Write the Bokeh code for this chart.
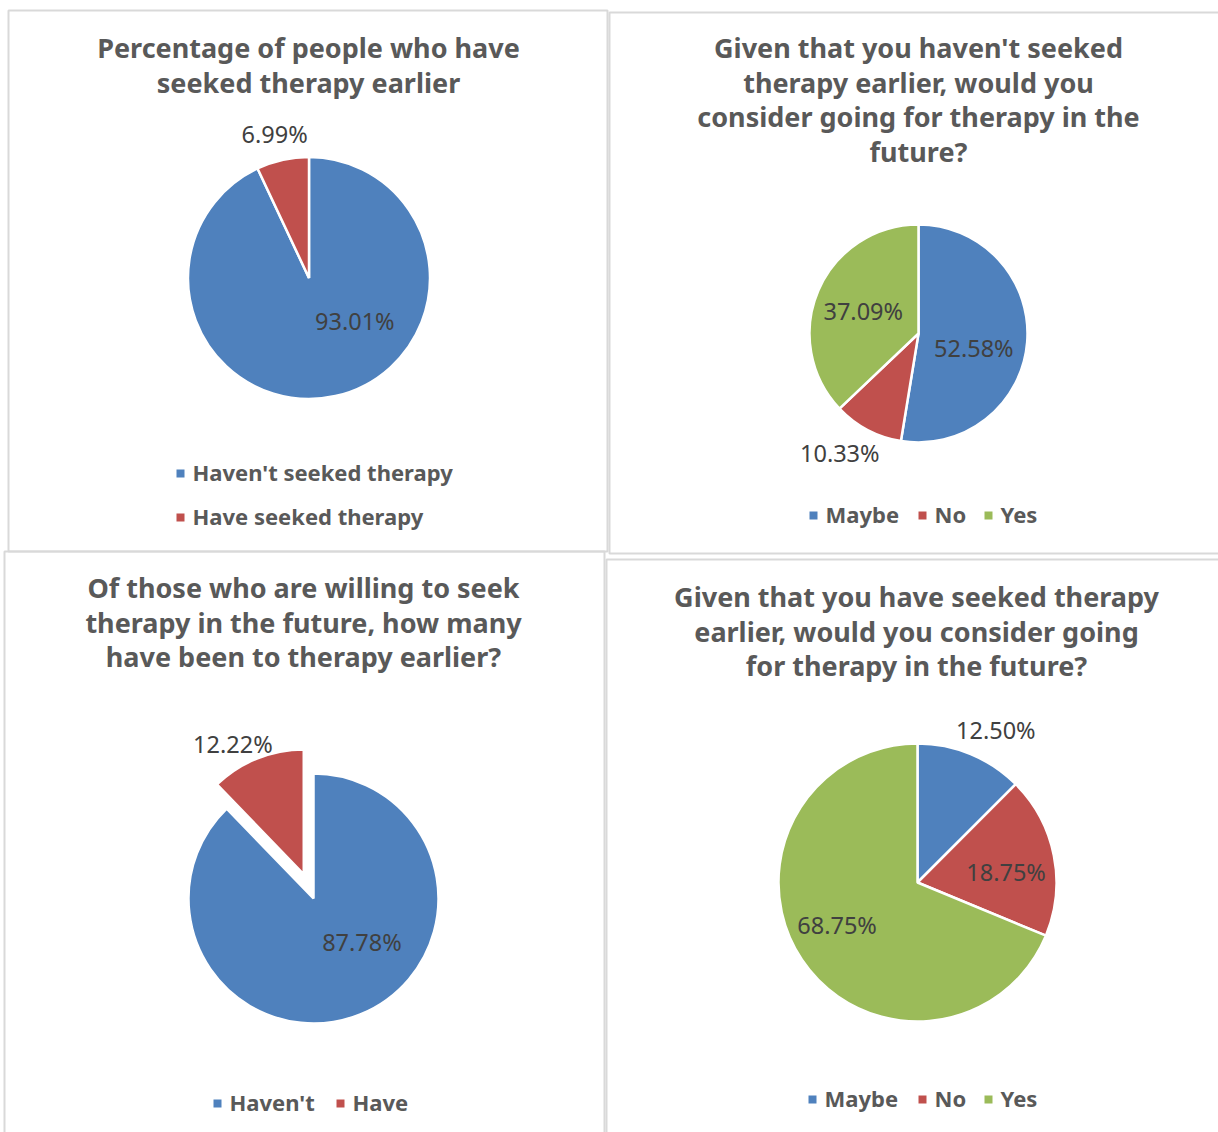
import math
from bokeh.plotting import figure
from bokeh.models import Range1d
from bokeh.core.properties import value
from bokeh.embed import file_html
from bokeh.resources import INLINE

# ---------------- DATA ----------------
q1_title = ["Percentage of people who have", "seeked therapy earlier"]
q1_categories = ["Haven't seeked therapy", "Have seeked therapy"]
q1_values = [93.01, 6.99]

q2_title = ["Given that you haven't seeked", "therapy earlier, would you",
            "consider going for therapy in the", "future?"]
q2_categories = ["Maybe", "No", "Yes"]
q2_values = [52.58, 10.33, 37.09]

q3_title = ["Of those who are willing to seek", "therapy in the future, how many",
            "have been to therapy earlier?"]
q3_categories = ["Haven't", "Have"]
q3_values = [87.78, 12.22]

q4_title = ["Given that you have seeked therapy", "earlier, would you consider going",
            "for therapy in the future?"]
q4_categories = ["Maybe", "No", "Yes"]
q4_values = [12.50, 18.75, 68.75]

# ---------------- STYLE / LAYOUT ----------------
BLUE, RED, GREEN = "#4F81BD", "#C0504D", "#9BBB59"
FONT = value("Noto Sans")
TITLE_COLOR = "#595959"
LABEL_COLOR = "#404040"
BORDER_COLOR = "#D9D9D9"

panels = [
    dict(title=q1_title, cats=q1_categories, vals=q1_values, colors=[BLUE, RED],
         box=(8, 10, 607, 551), title_x=308, title_y=49,
         center=(308.5, 277.5), r=121, explode=[0, 0],
         # label placement: (radius factor, angle offset from slice mid-angle, deg)
         labels=[(0.53, -33), (1.21, -1)],
         legend_sq=[(180, 473), (180, 517)]),
    dict(title=q2_title, cats=q2_categories, vals=q2_values, colors=[BLUE, RED, GREEN],
         box=(609, 12, 1240, 553), title_x=918, title_y=49,
         center=(918, 333), r=109, explode=[0, 0, 0],
         labels=[(0.53, 12), (1.33, 5), (0.54, -3)],
         legend_sq=[(813, 515), (922, 515), (988, 515)]),
    dict(title=q3_title, cats=q3_categories, vals=q3_values, colors=[BLUE, RED],
         box=(4, 551, 604, 1160), title_x=303, title_y=589,
         center=(313, 898), r=125, explode=[0, 26],
         labels=[(0.53, -25), (1.17, -7)],
         legend_sq=[(217, 1103), (340, 1103)]),
    dict(title=q4_title, cats=q4_categories, vals=q4_values, colors=[BLUE, RED, GREEN],
         box=(606, 559, 1240, 1160), title_x=916, title_y=598,
         center=(917, 882), r=139, explode=[0, 0, 0],
         labels=[(1.22, 5), (0.64, 6), (0.66, 5)],
         legend_sq=[(812, 1099), (922, 1099), (988, 1099)]),
]
TITLE_LEADING = 34.5
LEGEND_GAP = 12
# vertical correction: desired visual centre -> alphabetic baseline as rendered
TITLE_DY, LABEL_DY, LEGEND_DY = -2, -2, -2

W, H = 1218, 1132
p = figure(width=W, height=H, x_range=Range1d(0, W), y_range=Range1d(-H, 0),
           output_backend="svg", toolbar_location=None,
           x_axis_location=None, y_axis_location=None,
           min_border=0, outline_line_color=None, background_fill_color="white",
           border_fill_color="white")
p.grid.visible = False

for pn in panels:
    x0, y0, x1, y1 = pn["box"]
    p.quad(left=[x0], right=[x1], top=[-y0], bottom=[-y1], fill_color=None,
           line_color=BORDER_COLOR, line_width=2)

    # title
    n = len(pn["title"])
    p.text(x=[pn["title_x"]] * n,
           y=[-(pn["title_y"] + i * TITLE_LEADING) - TITLE_DY for i in range(n)],
           text=pn["title"], text_font=FONT, text_font_style="bold",
           text_font_size="27px", text_color=TITLE_COLOR,
           text_align="center", text_baseline="alphabetic")

    # pie (clockwise from 12 o'clock)
    total = sum(pn["vals"])
    cx, cy = pn["center"]
    cum = 0.0
    xs, ys, starts, ends, lx, ly, ltxt = [], [], [], [], [], [], []
    for v, ex, (rf, dang) in zip(pn["vals"], pn["explode"], pn["labels"]):
        a0 = cum / total
        cum += v
        a1 = cum / total
        mid = 2 * math.pi * (a0 + a1) / 2          # clockwise from top
        ux, uy = math.sin(mid), math.cos(mid)      # data coords (y up)
        sx, sy = cx + ex * ux, -cy + ex * uy
        xs.append(sx)
        ys.append(sy)
        starts.append(math.pi / 2 - 2 * math.pi * a1)
        ends.append(math.pi / 2 - 2 * math.pi * a0)
        lm = mid + math.radians(dang)
        lx.append(sx + rf * pn["r"] * math.sin(lm))
        ly.append(sy + rf * pn["r"] * math.cos(lm) - LABEL_DY)
        ltxt.append(f"{v / total * 100:.2f}%")
    p.wedge(x=xs, y=ys, radius=pn["r"], start_angle=starts, end_angle=ends,
            fill_color=pn["colors"], line_color="white", line_width=2.5)
    p.text(x=lx, y=ly, text=ltxt, text_font=FONT, text_font_size="23.5px",
           text_color=LABEL_COLOR, text_align="center", text_baseline="alphabetic")

    # legend
    sqx = [s[0] for s in pn["legend_sq"]]
    sqy = [-s[1] for s in pn["legend_sq"]]
    p.scatter(x=sqx, y=sqy, marker="square", size=8, fill_color=pn["colors"],
              line_color=None)
    p.text(x=[x + LEGEND_GAP for x in sqx], y=[y - LEGEND_DY for y in sqy],
           text=pn["cats"], text_font=FONT, text_font_style="bold",
           text_font_size="22px", text_color=TITLE_COLOR,
           text_align="left", text_baseline="alphabetic")

open("out.html", "w").write(file_html(p, INLINE))
